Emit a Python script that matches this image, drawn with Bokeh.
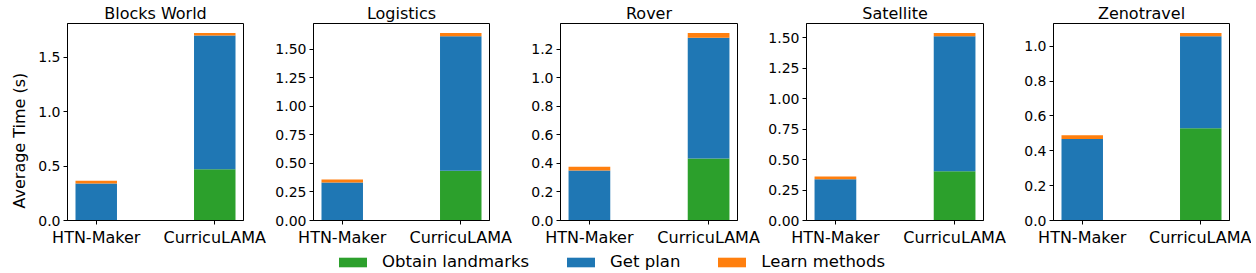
from bokeh.plotting import figure
from bokeh.layouts import column, row
from bokeh.models import (ColumnDataSource, Range1d, FixedTicker, SingleIntervalTicker,
                          NumeralTickFormatter, Legend, LegendItem, Title)
from bokeh.embed import file_html
from bokeh.resources import INLINE

# ---------------- data ----------------
domains = ["Blocks World", "Logistics", "Rover", "Satellite", "Zenotravel"]
methods = ["HTN-Maker", "CurricuLAMA"]
series_names = ["Obtain landmarks", "Get plan", "Learn methods"]

# per domain: [HTN-Maker, CurricuLAMA]
obtain_landmarks = [[0.0, 0.470], [0.0, 0.435], [0.0, 0.435], [0.0, 0.405], [0.0, 0.530]]
get_plan = [[0.340, 1.230], [0.333, 1.178], [0.350, 0.845], [0.338, 1.106], [0.468, 0.527]]
learn_methods = [[0.024, 0.023], [0.025, 0.030], [0.026, 0.034], [0.022, 0.028], [0.022, 0.020]]

y_tick_steps = [0.5, 0.25, 0.2, 0.25, 0.2]
y_tick_formats = ["0.0", "0.00", "0.0", "0.00", "0.0"]
y_label = "Average Time (s)"

# ---------------- style ----------------
colors = ["#2ca02c", "#1f77b4", "#ff7f0e"]
FONT = "DejaVu Sans"
left_borders = [61, 46, 47, 45, 46]
frame_widths = [176, 176, 177, 177, 176]
right_borders = [24, 24, 24, 24, 22]
FRAME_H = 197

figs = []
for i, dom in enumerate(domains):
    xs = list(range(len(methods)))
    src = ColumnDataSource(dict(
        x=xs,
        landmarks=obtain_landmarks[i],
        plan=get_plan[i],
        learn=learn_methods[i],
    ))
    totals = [a + b + c for a, b, c in zip(obtain_landmarks[i], get_plan[i], learn_methods[i])]
    width = 0.35
    pad = 0.05 * (len(xs) - 1 + width)
    p = figure(
        title=dom,
        x_range=Range1d(-width / 2 - pad, len(xs) - 1 + width / 2 + pad),
        y_range=Range1d(0, max(totals) * 1.05),
        frame_width=frame_widths[i], frame_height=FRAME_H,
        min_border_left=left_borders[i], min_border_right=right_borders[i],
        min_border_top=0, min_border_bottom=0,
        toolbar_location=None, output_backend="svg",
        background_fill_color="white", border_fill_color="white",
    )
    p.vbar_stack(["landmarks", "plan", "learn"], x="x", width=width, source=src,
                 fill_color=colors, line_color=None)

    p.title.text_font = FONT
    p.title.text_font_size = "16px"
    p.title.text_font_style = "normal"
    p.title.text_color = "black"
    p.title.align = "center"
    p.title.standoff = 2

    p.outline_line_color = "black"
    p.outline_line_width = 1
    p.outline_line_alpha = 1
    p.grid.visible = False

    xa = p.xaxis[0]
    xa.ticker = FixedTicker(ticks=xs)
    xa.major_label_overrides = {j: m for j, m in enumerate(methods)}
    xa.major_label_text_font = FONT
    xa.major_label_text_font_size = "16px"
    xa.major_label_text_color = "black"
    xa.major_tick_in = 0
    xa.major_tick_out = 4
    xa.major_label_standoff = 3
    xa.minor_tick_line_color = None
    xa.axis_line_color = "black"
    xa.major_tick_line_color = "black"

    ya = p.yaxis[0]
    ya.ticker = SingleIntervalTicker(interval=y_tick_steps[i], num_minor_ticks=0)
    ya.formatter = NumeralTickFormatter(format=y_tick_formats[i])
    ya.major_label_text_font = FONT
    ya.major_label_text_font_size = "14px"
    ya.major_label_text_color = "black"
    ya.major_tick_in = 0
    ya.major_tick_out = 4
    ya.major_label_standoff = 3
    ya.minor_tick_line_color = None
    ya.axis_line_color = "black"
    ya.major_tick_line_color = "black"
    if i == 0:
        # figure-level y label, centred on the figure height rather than the frame
        ylab = Title(text=y_label, align="left", offset=12, standoff=14,
                     text_font=FONT, text_font_size="16px", text_font_style="normal",
                     text_color="black")
        p.add_layout(ylab, "left")
    figs.append(p)

total_w = sum(left_borders) + sum(frame_widths) + sum(right_borders)

# legend strip: one zero-height bar per series so the legend has a renderer to draw from
leg = figure(width=total_w, height=22, x_range=Range1d(0, 1), y_range=Range1d(0, 1),
             toolbar_location=None, output_backend="svg",
             min_border_left=0, min_border_right=0, min_border_top=0, min_border_bottom=0)
leg.axis.visible = False
leg.grid.visible = False
leg.outline_line_color = None
items = []
for name, c in zip(series_names, colors):
    r = leg.vbar(x=[0], bottom=[0], top=[0], width=0, fill_color=c, line_color=None)
    items.append(LegendItem(label=name, renderers=[r]))
legend = Legend(items=items, orientation="horizontal", location=(335, 0),
                glyph_width=35, glyph_height=12, label_standoff=12, spacing=34,
                padding=0, margin=0, border_line_color=None, background_fill_alpha=0,
                label_text_font=FONT, label_text_font_size="16.5px", label_text_color="black",
                label_height=18)
leg.add_layout(legend)

layout = column(row(*figs), leg)
open("out.html", "w").write(file_html(layout, INLINE))
